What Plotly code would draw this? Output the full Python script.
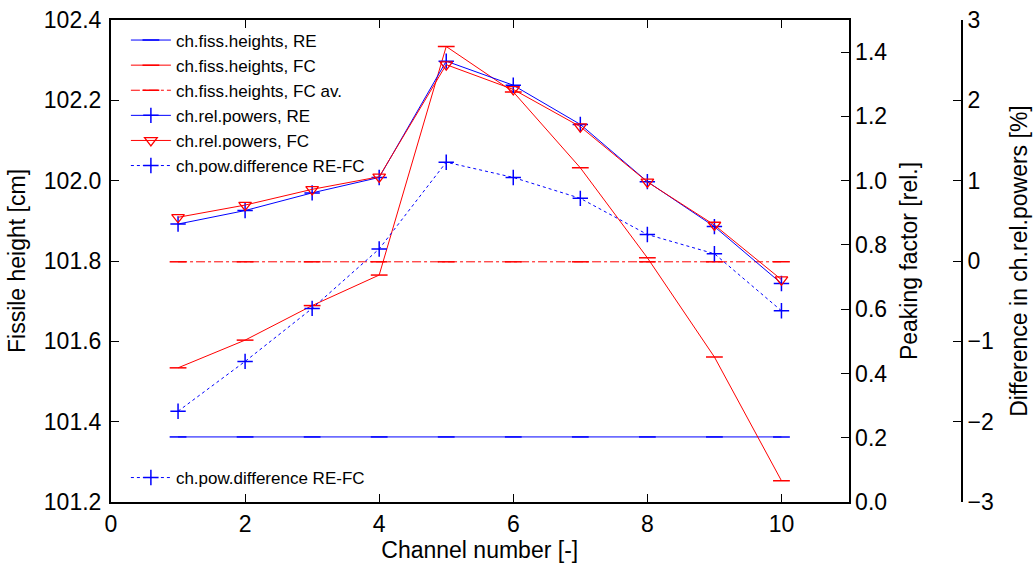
import plotly.graph_objects as go

channels = [1, 2, 3, 4, 5, 6, 7, 8, 9, 10]
fiss_heights_re = [101.362] * 10
fiss_heights_fc = [101.534, 101.603, 101.689, 101.765, 102.334, 102.221, 102.032, 101.808, 101.561, 101.253]
fiss_heights_fc_av = [101.798] * 10
rel_powers_re = [0.865, 0.907, 0.962, 1.010, 1.372, 1.297, 1.175, 0.997, 0.857, 0.680]
rel_powers_fc = [0.886, 0.924, 0.973, 1.012, 1.361, 1.284, 1.168, 0.996, 0.862, 0.692]
pow_difference = [-1.87, -1.25, -0.59, 0.15, 1.23, 1.04, 0.78, 0.33, 0.09, -0.62]

BLUE = "#0000ff"
RED = "#ff0000"
FONT = "Liberation Sans, Arial, sans-serif"

fig = go.Figure()

fig.add_trace(go.Scatter(
    x=channels, y=fiss_heights_re, name="ch.fiss.heights, RE", mode="lines+markers",
    line=dict(color=BLUE, width=1),
    marker=dict(symbol="line-ew", size=12, line=dict(color=BLUE, width=1.5)),
    yaxis="y"))
fig.add_trace(go.Scatter(
    x=channels, y=fiss_heights_fc, name="ch.fiss.heights, FC", mode="lines+markers",
    line=dict(color=RED, width=1),
    marker=dict(symbol="line-ew", size=12, line=dict(color=RED, width=1.5)),
    yaxis="y"))
fig.add_trace(go.Scatter(
    x=channels, y=fiss_heights_fc_av, name="ch.fiss.heights, FC av.", mode="lines+markers",
    line=dict(color=RED, width=1, dash="dashdot"),
    marker=dict(symbol="line-ew", size=12, line=dict(color=RED, width=1.5)),
    yaxis="y"))
fig.add_trace(go.Scatter(
    x=channels, y=rel_powers_re, name="ch.rel.powers, RE", mode="lines+markers",
    line=dict(color=BLUE, width=1),
    marker=dict(symbol="cross-thin", size=11, line=dict(color=BLUE, width=1.5)),
    yaxis="y2"))
fig.add_trace(go.Scatter(
    x=channels, y=rel_powers_fc, name="ch.rel.powers, FC", mode="lines+markers",
    line=dict(color=RED, width=1),
    marker=dict(symbol="triangle-down-open", size=11, color=RED, line=dict(color=RED, width=1.3)),
    yaxis="y2"))
fig.add_trace(go.Scatter(
    x=channels, y=pow_difference, name="ch.pow.difference RE-FC", mode="lines+markers",
    line=dict(color=BLUE, width=1, dash="dot"),
    marker=dict(symbol="cross-thin", size=11, line=dict(color=BLUE, width=1.5)),
    yaxis="y3"))
# entry of the second legend (twin axes legend)
fig.add_trace(go.Scatter(
    x=[None], y=[None], name="ch.pow.difference RE-FC", mode="lines+markers",
    line=dict(color=BLUE, width=1, dash="dot"),
    marker=dict(symbol="cross-thin", size=11, line=dict(color=BLUE, width=1.5)),
    yaxis="y3", legend="legend2"))

L, R, T, B = 111, 71, 19.5, 64.5
W, H = 1033, 567
pw = W - L - R
ph = H - T - B
xend = (848.5 - L) / pw

TICK = 23
TITLE = 23
LEG = 17

axis_common = dict(
    showline=True, linecolor="black", linewidth=2,
    ticks="inside", ticklen=8, tickwidth=1, tickcolor="black",
    showgrid=False, zeroline=False,
    tickfont=dict(family=FONT, size=TICK, color="black"),
)

fig.update_layout(
    width=W, height=H,
    margin=dict(l=L, r=R, t=T, b=B, autoexpand=False),
    paper_bgcolor="white", plot_bgcolor="white",
    font=dict(family=FONT, color="black"),
    xaxis=dict(
        domain=[0, xend], range=[0, 11], tickvals=[0, 2, 4, 6, 8, 10], mirror="ticks",
        title=dict(text="Channel number [-]", font=dict(size=TITLE), standoff=6),
        **axis_common),
    yaxis=dict(
        range=[101.2, 102.4], tickvals=[101.2, 101.4, 101.6, 101.8, 102.0, 102.2, 102.4],
        tickformat=".1f", ticklabelstandoff=3,
        title=dict(text="Fissile height [cm]", font=dict(size=TITLE), standoff=12),
        **axis_common),
    yaxis2=dict(
        overlaying="y", side="right", anchor="x",
        range=[0, 1.5], tickvals=[0, 0.2, 0.4, 0.6, 0.8, 1.0, 1.2, 1.4], tickformat=".1f",
        title=dict(text="Peaking factor [rel.]", font=dict(size=TITLE), standoff=15),
        **axis_common),
    yaxis3=dict(
        overlaying="y", side="right", anchor="free", position=1.0,
        range=[-3, 3], tickvals=[-3, -2, -1, 0, 1, 2, 3],
        title=dict(text="Difference in ch.rel.powers [%]", font=dict(size=TITLE), standoff=17),
        **axis_common),
    legend=dict(
        x=0.0175, y=1 - 2.5 / ph, xanchor="left", yanchor="top",
        bgcolor="rgba(0,0,0,0)", borderwidth=0,
        font=dict(family=FONT, size=LEG, color="black"),
        itemwidth=40,
    ),
    legend2=dict(
        x=0.0175, y=6 / ph, xanchor="left", yanchor="bottom",
        bgcolor="rgba(0,0,0,0)", borderwidth=0,
        font=dict(family=FONT, size=LEG, color="black"),
        itemwidth=40,
    ),
    showlegend=True,
)

fig.write_html("out.html", config={"displayModeBar": False},
               post_script="document.body.style.margin='0px';")
